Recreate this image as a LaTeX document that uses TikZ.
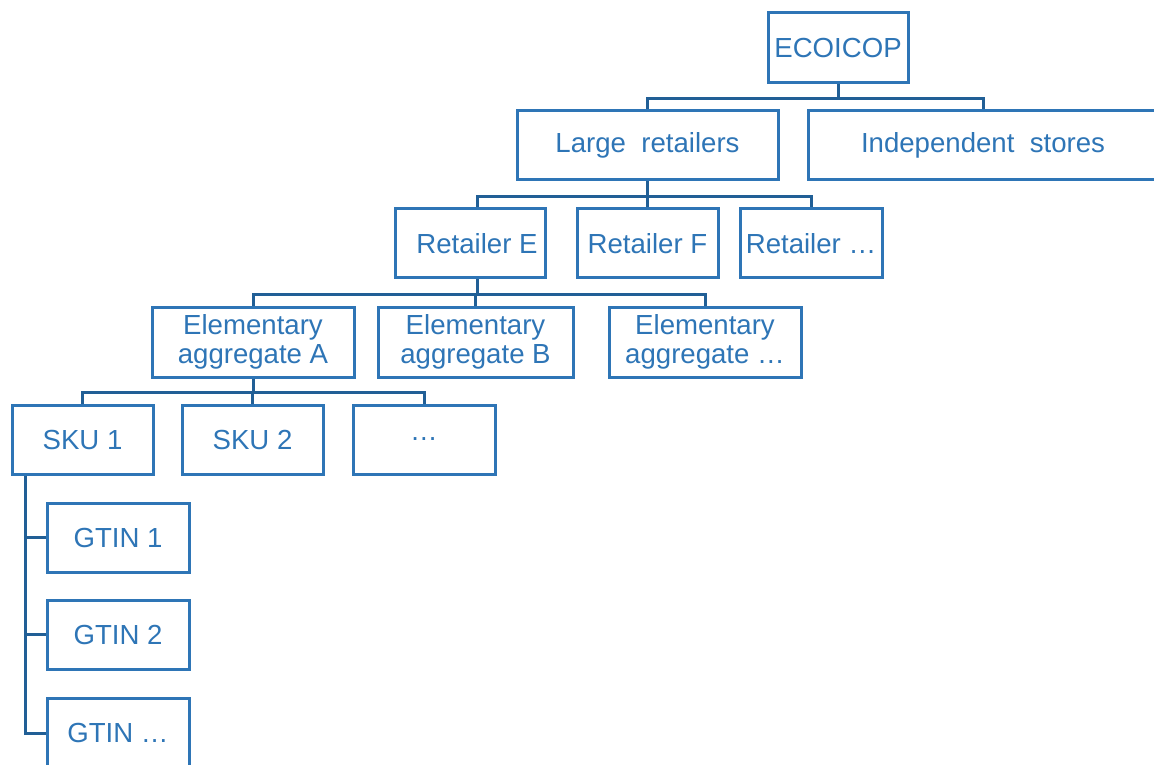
\documentclass[tikz,border=0pt]{standalone}
\usepackage{fontspec}
\setmainfont{Liberation Sans}
\usepackage{xcolor}
\usetikzlibrary{positioning, calc}
\definecolor{boxblue}{HTML}{2E75B6}
\definecolor{lineblue}{HTML}{215F96}

\begin{document}
\begin{tikzpicture}[x=0.5pt, y=-0.5pt,
        box/.style={draw=boxblue, line width=1.5pt, text=boxblue, inner sep=0pt,
            minimum height=34.5pt, align=center,
            font=\fontsize{13.8}{14.6}\selectfont},
        conn/.style={draw=lineblue, line width=1.5pt}]
    \useasboundingbox (0,0) rectangle (1154,764);
    \clip (0,0) rectangle (1154,764);
    \node[box, minimum width=70pt, minimum height=35pt] (eco) at (838,48) {ECOICOP};
    \node[box, minimum width=130.5pt] (large) at (647.5,145.5) {Large \ retailers};
    \node[box, minimum width=175pt] (indep) at (983,145.5) {Independent \ stores};
    \node[box, minimum width=75pt] (retE) at (470,243.5) {\hspace{7pt}Retailer E};
    \node[box, minimum width=70.5pt] (retF) at (647.5,243.5) {Retailer F};
    \node[box, minimum width=71pt] (retX) at (811,243.5) {Retailer \dots};
    \node[box, minimum width=101pt, minimum height=35pt] (eaA) at (253,342) {Elementary\\aggregate A};
    \node[box, minimum width=97.5pt, minimum height=35pt] (eaB) at (475.5,342) {Elementary\\aggregate B};
    \node[box, minimum width=96pt, minimum height=35pt] (eaX) at (705,342) {Elementary\\aggregate \dots};
    \node[box, minimum width=70.5pt] (sku1) at (82.5,439.5) {SKU 1};
    \node[box, minimum width=70.5pt] (sku2) at (252.5,439.5) {SKU 2};
    \node[box, minimum width=71pt] (skuX) at (424,439.5) {\dots};
    \node[box, minimum width=71pt] (gtin1) at (118,537.5) {GTIN 1};
    \node[box, minimum width=71pt] (gtin2) at (118,634.5) {GTIN 2};
    \node[box, minimum width=71pt] (gtinX) at (118,733) {GTIN \dots};
    \coordinate (retEtop) at ($(retE.north)+(7,0)$);
    \coordinate (retEbot) at ($(retE.south)+(7,0)$);

    \foreach \c in {large, indep}
        \draw[conn] (eco.south) -- ++(0,14) -| (\c.north);
    \foreach \c in {retEtop, retF.north, retX.north}
        \draw[conn] (large.south) -- ++(0,15) -| (\c);
    \foreach \c in {eaA, eaB, eaX}
        \draw[conn] (retEbot) -- ++(0,15) -| (\c.north);
    \foreach \c in {sku1, sku2, skuX}
        \draw[conn] (eaA.south) -- ++(0,14) -| (\c.north);
    \foreach \c in {gtin1, gtin2, gtinX}
        \draw[conn] (sku1.south west) ++(15,0) |- (\c.west);
\end{tikzpicture}
\end{document}
